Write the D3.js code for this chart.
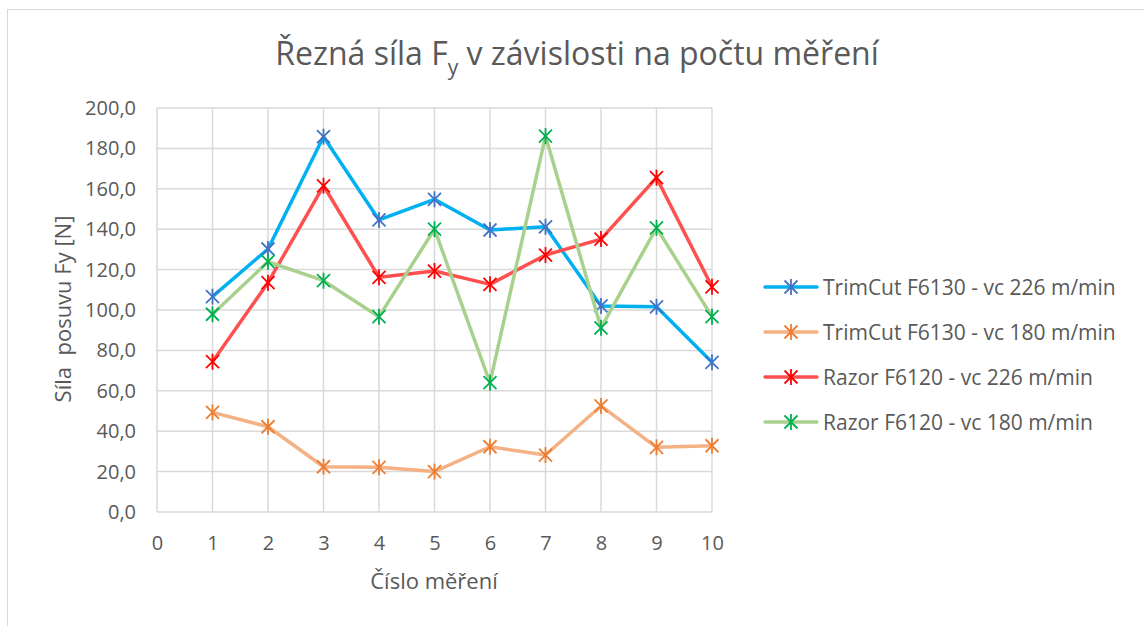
<!DOCTYPE html>
<html>
<head>
<meta charset="utf-8">
<script src="https://cdn.jsdelivr.net/npm/d3@7"></script>
<style>
  body { margin: 0; background: #fff; }
  text { font-family: "Open Sans", sans-serif; fill: #595959; }
</style>
</head>
<body>
<div id="chart"></div>
<script>
// measurement numbers 1..10
var mereni = [1, 2, 3, 4, 5, 6, 7, 8, 9, 10];
var xTicks = [0, 1, 2, 3, 4, 5, 6, 7, 8, 9, 10];
var yTicks = [0, 20, 40, 60, 80, 100, 120, 140, 160, 180, 200];

var seriesNames = [
  "TrimCut F6130 - vc 226 m/min",
  "TrimCut F6130 - vc 180 m/min",
  "Razor F6120 - vc 226 m/min",
  "Razor F6120 - vc 180 m/min"
];
var trim226 = [106.6, 130.2, 185.8, 144.6, 154.8, 139.6, 141.2, 102.0, 101.6, 74.1];
var trim180 = [49.3, 42.2, 22.4, 22.1, 20.0, 32.3, 28.2, 52.5, 32.0, 32.8];
var razor226 = [74.4, 113.5, 161.5, 116.2, 119.3, 112.7, 127.2, 135.1, 165.5, 111.5];
var razor180 = [97.9, 123.9, 114.5, 96.7, 140.0, 64.0, 186.1, 91.2, 140.7, 96.7];

var lineColors = ["#00B0F0", "#F4B183", "#FF5050", "#A9D18E"];
var markColors = ["#4472C4", "#ED7D31", "#FF0000", "#00B050"];

var W = 1144, H = 626;
var margin = { left: 157, right: 432, top: 108, bottom: 114 };

var svg = d3.select("#chart").append("svg")
  .attr("width", W).attr("height", H);

// chart frame
svg.append("rect")
  .attr("x", 7.5).attr("y", 9.5)
  .attr("width", W + 10).attr("height", H + 10)
  .attr("fill", "none").attr("stroke", "#D9D9D9").attr("stroke-width", 1);

var x = d3.scaleLinear().domain([0, 10]).range([margin.left, W - margin.right]);
var y = d3.scaleLinear().domain([0, 200]).range([H - margin.bottom, margin.top]);

// gridlines
var grid = svg.append("g");
grid.selectAll(".hg").data(yTicks).enter().append("line")
  .attr("x1", x(0)).attr("x2", x(10))
  .attr("y1", d => y(d)).attr("y2", d => y(d))
  .attr("stroke", "#D9D9D9").attr("stroke-width", 1.5);
grid.selectAll(".vg").data(xTicks).enter().append("line")
  .attr("x1", d => x(d)).attr("x2", d => x(d))
  .attr("y1", y(0)).attr("y2", y(200))
  .attr("stroke", "#D9D9D9").attr("stroke-width", 1.5);

// axes (labels only)
var fmt = d => d3.format(".1f")(d).replace(".", ",");
var yAxis = svg.append("g")
  .attr("transform", `translate(${x(0)},0)`)
  .call(d3.axisLeft(y).tickValues(yTicks).tickFormat(fmt).tickSize(0).tickPadding(21));
var xAxis = svg.append("g")
  .attr("transform", `translate(0,${y(0)})`)
  .call(d3.axisBottom(x).tickValues(xTicks).tickFormat(d3.format("d")).tickSize(0).tickPadding(24));
[yAxis, xAxis].forEach(a => {
  a.select(".domain").remove();
  a.selectAll("text").style("font-size", "20px").attr("fill", "#595959");
});

// title
var title = svg.append("text")
  .attr("x", 577).attr("y", 65)
  .attr("text-anchor", "middle")
  .style("font-size", "32px");
title.append("tspan").text("Řezná síla F");
title.append("tspan").attr("dy", 10).style("font-size", "21px").text("y");
title.append("tspan").attr("dy", -10).text(" v závislosti na počtu měření");

// axis titles
svg.append("text")
  .attr("transform", `translate(71,309) rotate(-90)`)
  .attr("text-anchor", "middle")
  .style("font-size", "22px")
  .style("white-space", "pre")
  .attr("xml:space", "preserve")
  .text("Síla  posuvu Fy [N]");
svg.append("text")
  .attr("x", 434).attr("y", 589)
  .attr("text-anchor", "middle")
  .style("font-size", "22px")
  .text("Číslo měření");

// asterisk marker
function star(g, cx, cy, color) {
  var s = 6.5;
  var m = g.append("g").attr("transform", `translate(${cx},${cy})`)
    .attr("stroke", color).attr("stroke-width", 1.8).attr("fill", "none");
  m.append("line").attr("x1", -s).attr("y1", -s).attr("x2", s).attr("y2", s);
  m.append("line").attr("x1", -s).attr("y1", s).attr("x2", s).attr("y2", -s);
  m.append("line").attr("x1", 0).attr("y1", -s - 1.5).attr("x2", 0).attr("y2", s + 1.5);
}

var allSeries = [trim226, trim180, razor226, razor180];
var line = d3.line().x((d, i) => x(mereni[i])).y(d => y(d));

allSeries.forEach((vals, k) => {
  var g = svg.append("g");
  g.append("path").datum(vals)
    .attr("d", line)
    .attr("fill", "none")
    .attr("stroke", lineColors[k])
    .attr("stroke-width", 3.5)
    .attr("stroke-linejoin", "round");
  vals.forEach((v, i) => star(g, x(mereni[i]), y(v), markColors[k]));
});

// legend
var legend = svg.append("g");
seriesNames.forEach((name, k) => {
  var ly = 287 + k * 45;
  legend.append("line")
    .attr("x1", 765).attr("x2", 817).attr("y1", ly).attr("y2", ly)
    .attr("stroke", lineColors[k]).attr("stroke-width", 3.5).attr("stroke-linecap", "round");
  star(legend, 791, ly, markColors[k]);
  legend.append("text")
    .attr("x", 823).attr("y", ly + 7.5)
    .style("font-size", "21px")
    .text(name);
});
</script>
</body>
</html>
